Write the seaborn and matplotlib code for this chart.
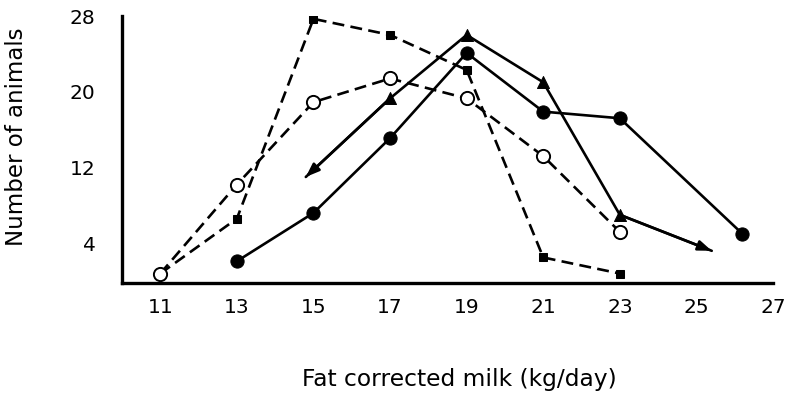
import numpy as np
import pandas as pd
import matplotlib
matplotlib.use("Agg")
import matplotlib.pyplot as plt
import seaborn as sns

# Data
sq_x = [11, 13, 15, 17, 19, 21, 23]
sq_y = [0.8, 6.6, 27.7, 26.0, 22.3, 2.5, 0.8]

oc_x = [11, 13, 15, 17, 19, 21, 23]
oc_y = [0.8, 10.2, 18.9, 21.4, 19.3, 13.2, 5.2]

fc_x = [13, 15, 17, 19, 21, 23, 26.2]
fc_y = [2.1, 7.2, 15.1, 24.1, 17.9, 17.2, 5.0]

tr_x = [14.8, 17, 19, 21, 23, 25.4]
tr_y = [11.0, 19.3, 26.0, 21.0, 7.0, 3.2]

x_ticks = [11, 13, 15, 17, 19, 21, 23, 25, 27]
y_ticks = [4, 12, 20, 28]

sns.set_style("white")
plt.rcParams["font.family"] = ["DejaVu Sans"]
plt.rcParams["text.color"] = "black"
plt.rcParams["axes.labelcolor"] = "black"

fig = plt.figure(figsize=(7.86, 3.95), dpi=100)
ax = fig.add_axes([122 / 786, 1 - 283 / 395, (773 - 122) / 786, (283 - 16) / 395])

lw = 1.9
dash = (4.5, 2.4)

sq = pd.DataFrame({"x": sq_x, "y": sq_y})
oc = pd.DataFrame({"x": oc_x, "y": oc_y})
fc = pd.DataFrame({"x": fc_x, "y": fc_y})
tr = pd.DataFrame({"x": tr_x, "y": tr_y})

sns.lineplot(data=sq, x="x", y="y", ax=ax, sort=False, color="black", lw=lw,
             marker="s", markersize=6, markeredgecolor="black", markerfacecolor="black",
             zorder=3)
ax.lines[-1].set_dashes(dash)
sns.lineplot(data=oc, x="x", y="y", ax=ax, sort=False, color="black", lw=lw,
             marker="o", markersize=9.5, markerfacecolor="white",
             markeredgecolor="black", markeredgewidth=1.4, zorder=4)
ax.lines[-1].set_dashes(dash)
sns.lineplot(data=fc, x="x", y="y", ax=ax, sort=False, color="black", lw=lw,
             marker="o", markersize=9.5, markerfacecolor="black",
             markeredgecolor="black", zorder=4)
sns.lineplot(data=tr, x="x", y="y", ax=ax, sort=False, color="black", lw=lw, zorder=4)
sns.scatterplot(data=tr.iloc[1:-1], x="x", y="y", ax=ax, marker="^", s=75,
                color="black", edgecolor="black", zorder=5)
# arrowheads at both ends of the triangle series
for a, b in [(0, 1), (-1, -2)]:
    ax.annotate("", xy=(tr_x[a], tr_y[a]), xytext=(tr_x[b], tr_y[b]),
                arrowprops=dict(arrowstyle="-|>,head_length=0.8,head_width=0.3",
                                color="black", lw=lw, shrinkA=0, shrinkB=0), zorder=5)

ax.set_xlim(10, 27)
ax.set_ylim(-0.2, 28)
ax.set_xticks(x_ticks)
ax.set_yticks(y_ticks)
ax.set_xticklabels([str(t) for t in x_ticks])
ax.set_yticklabels([str(t) for t in y_ticks])
ax.tick_params(axis="both", direction="in", length=7, width=2.0, color="black",
               labelsize=14.5, labelcolor="black")
ax.tick_params(axis="x", pad=11)
ax.tick_params(axis="y", pad=19)

for s in ["top", "right"]:
    ax.spines[s].set_visible(False)
for s in ["left", "bottom"]:
    ax.spines[s].set_linewidth(2.4)
    ax.spines[s].set_color("black")

ax.set_xlabel("Fat corrected milk (kg/day)", fontsize=16.8, color="black")
ax.xaxis.set_label_coords((459 - 122) / 651, (283 - 368) / 267)
ax.set_ylabel("Number of animals", fontsize=16.5, color="black")
ax.yaxis.set_label_coords((28 - 122) / 651, (283 - 137) / 267)
ax.grid(False)

fig.savefig("out.png", dpi=100, facecolor="white")
